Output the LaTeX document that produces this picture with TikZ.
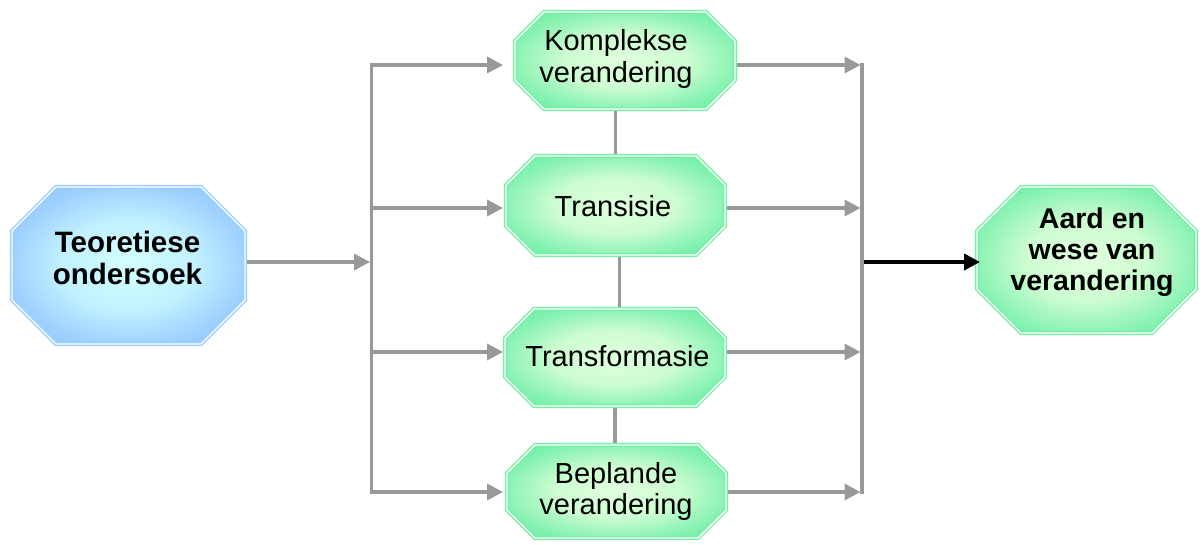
\documentclass[tikz,border=0pt]{standalone}
\usepackage{fontspec}
\setmainfont{Liberation Sans}
\usetikzlibrary{arrows.meta,calc}

\definecolor{linegray}{RGB}{153,153,153}
\definecolor{greenedge}{RGB}{120,238,168}
\definecolor{greenin}{RGB}{225,255,222}
\definecolor{greenmid}{RGB}{205,253,208}
\definecolor{greenout}{RGB}{140,243,180}
\definecolor{greenfar}{RGB}{90,236,152}
\definecolor{blueedge}{RGB}{155,205,255}
\definecolor{bluein}{RGB}{210,255,255}
\definecolor{bluemid}{RGB}{195,242,255}
\definecolor{blueout}{RGB}{160,210,255}
\definecolor{bluefar}{RGB}{135,192,255}

\pgfdeclareradialshading{greenglow}{\pgfpoint{0bp}{0bp}}{%
  color(0bp)=(greenin); color(14bp)=(greenmid); color(25bp)=(greenout);
  color(35bp)=(greenfar); color(50bp)=(greenfar)}
\pgfdeclareradialshading{blueglow}{\pgfpoint{0bp}{0bp}}{%
  color(0bp)=(bluein); color(14bp)=(bluemid); color(25bp)=(blueout);
  color(35bp)=(bluefar); color(50bp)=(bluefar)}

% Octagon outline drawn round a named rectangular frame node;
% #1 frame node, #2 chamfer size, #3 path style
\newcommand\octoframe[3]{%
  \path[#3] ([xshift=#2]#1.north west) -- ([xshift=-#2]#1.north east)
    -- ([yshift=-#2]#1.north east) -- ([yshift=#2]#1.south east)
    -- ([xshift=-#2]#1.south east) -- ([xshift=#2]#1.south west)
    -- ([yshift=#2]#1.south west) -- ([yshift=-#2]#1.north west) -- cycle;}

\begin{document}
\begin{tikzpicture}[x=1pt,y=-1pt,
  boxframe/.style={rectangle,inner sep=0pt,outer sep=0pt},
  greenoct/.style={draw=greenedge,double=white,double distance=1.4pt,
    line width=1.4pt,shading=greenglow},
  blueoct/.style={draw=blueedge,double=white,double distance=1.4pt,
    line width=1.4pt,shading=blueglow},
  txt/.style={align=center,inner sep=0pt,
    font=\fontsize{29}{32}\selectfont},
  boldtxt/.style={align=center,inner sep=0pt,
    font=\fontsize{28.5}{31}\selectfont\bfseries},
  conn/.style={draw=linegray,line width=3.5pt,line cap=rect},
  flow/.style={conn,-{Triangle[length=16pt,width=16pt]}},
  resultarrow/.style={draw=black,line width=4pt,
    -{Triangle[length=16pt,width=16pt]}}]

\fill[white] (0,0) rectangle (1204,544);
\useasboundingbox (0,0) rectangle (1204,544);

% box frames
\node[boxframe,minimum width=233pt,minimum height=157pt] (T) at (128.5,265.5) {};
\node[boxframe,minimum width=220pt,minimum height=97pt] (K) at (625,60.5) {};
\node[boxframe,minimum width=219pt,minimum height=99pt] (S) at (615.5,205.5) {};
\node[boxframe,minimum width=220pt,minimum height=97pt] (F) at (615,357.5) {};
\node[boxframe,minimum width=219pt,minimum height=93pt] (B) at (616.5,491.5) {};
\node[boxframe,minimum width=219pt,minimum height=146pt] (R) at (1086.5,260) {};

% bus points
\coordinate (l1) at (371.5,65);
\coordinate (l2) at (371.5,208);
\coordinate (lm) at (371.5,262);
\coordinate (l3) at (371.5,352);
\coordinate (l4) at (371.5,492);
\coordinate (r1) at (862,65);
\coordinate (r2) at (862,208);
\coordinate (rm) at (862,262);
\coordinate (r3) at (862,352);
\coordinate (r4) at (862,492);

% distribution bus
\draw[conn] (l1) -- (l4);
\draw[flow,shorten >=1.5pt] (T.east |- lm) -- (lm);
\draw[flow,shorten >=12pt] (l1) -- (K.west |- l1);
\draw[flow,shorten >=3pt] (l2) -- (S.west |- l2);
\draw[flow,shorten >=2pt] (l3) -- (F.west |- l3);
\draw[flow,shorten >=4pt] (l4) -- (B.west |- l4);

% collecting bus
\draw[conn] (r1) -- (r4);
\draw[flow,shorten >=1.5pt] (K.east |- r1) -- (r1);
\draw[flow,shorten >=1.5pt] (S.east |- r2) -- (r2);
\draw[flow,shorten >=1.5pt] (F.east |- r3) -- (r3);
\draw[flow,shorten >=1.5pt] (B.east |- r4) -- (r4);

% links between the four kinds of change
\draw[conn] (S.north) -- (S.north |- K.south);
\draw[conn] ($(S.south)+(4,0)$) -- ($(S.south |- F.north)+(4,0)$);
\draw[conn] (F.south) -- (F.south |- B.north);

% octagons
\octoframe{T}{44pt}{blueoct}
\octoframe{K}{29pt}{greenoct}
\octoframe{S}{29pt}{greenoct}
\octoframe{F}{29pt}{greenoct}
\octoframe{B}{28pt}{greenoct}
\octoframe{R}{44pt}{greenoct}

% texts
\node[boldtxt,font=\fontsize{29.5}{32}\selectfont\bfseries] (tT) at (127.5,258.2) {Teoretiese\\ondersoek};
\node[txt] (tK) at (616,58.5) {Komplekse\\verandering};
\node[txt] (tS) at (613,206) {Transisie};
\node[txt] (tF) at (617.5,356.5) {Transformasie};
\node[txt,font=\fontsize{29}{31}\selectfont] (tB) at (616,491) {Beplande\\verandering};
\node[boldtxt] (tR) at (1092,252.5) {Aard en\\wese van\\verandering};

% result
\draw[resultarrow] ($(rm)+(1.75,0)$) -- ($(R.west |- rm)+(3,0)$);
\end{tikzpicture}
\end{document}
